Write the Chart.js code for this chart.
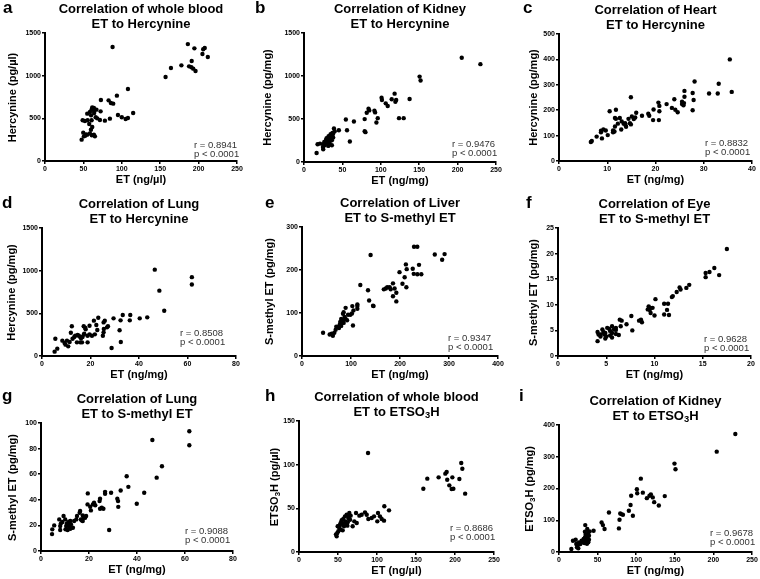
<!DOCTYPE html>
<html><head><meta charset="utf-8">
<script src="https://cdn.jsdelivr.net/npm/chart.js@4.4.1/dist/chart.umd.min.js"></script>
<style>
html,body{margin:0;padding:0;background:#fff;}
#wrap{position:relative;width:760px;height:579px;overflow:hidden;font-family:"Liberation Sans",Arial,sans-serif;}
canvas{position:absolute;left:0;top:0;}
.t{position:absolute;font-weight:bold;color:#000;white-space:nowrap;}
.title{font-size:13px;line-height:15px;text-align:center;}
.letter{font-size:17px;line-height:17px;}
.xt,.yt{font-size:11px;line-height:13px;text-align:center;}
.yt{transform:rotate(-90deg);}
.ann{font-weight:normal;font-size:9.5px;line-height:9px;color:#333;}
sub{font-size:0.72em;vertical-align:baseline;position:relative;top:0.3em;}
</style></head>
<body><div id="wrap"></div>
<script>
// ---------- data ----------
const aX = [88,186,194.5,206,208,205,212,191,187.6,190.6,193,196,177.6,164,157,108,93.6,72.8,82.8,85.8,88.8,72.4,95,100,105,108,114.8,84.5,78,68,71.5,66,61.5,63.7,60.7,64.1,58.5,67,55,64,60,49,52,55.5,60.7,57.6,61.5,59.8,49.8,53.3,58.5,55,61,47.7,50.7,52.4,63.7,65];
const aY = [1336,1370,1320,1310,1325,1254,1219,1172,1109,1098,1082,1055,1121,1090,984,844,766,715,711,680,672,582,539,512,492,504,563,496,473,500,480,512,629,621,602,586,574,602,555,562,535,477,469,477,477,434,398,367,332,312,324,309,301,250,289,297,309,289];

const bX = [205.4,229.7,150.5,151.8,137.5,118,120,114.2,101,101.5,106.4,109,119,123.7,129.8,84,85,81.7,91.7,92.6,96,94.3,79,79,80,65,54.5,56,59.7,45.4,39,40,37,34.6,36.8,32,35,38,29.4,32.9,28.5,36.3,26.4,30.3,25,33.3,20.8,17.7,24.7,25,36.3,16.4,31.6,30,34,36,28,33,38,27];
const bY = [1212,1138,993,947,732,795,721,729,748,721,682,651,701,510,510,619,600,573,596,577,510,460,499,358,347,471,495,370,238,370,390,358,339,323,312,300,284,284,277,261,253,253,234,226,206,206,214,206,175,148,195,105,187,240,270,300,220,230,330,195];

const cX = [35.4,35.8,33.1,32.9,28.1,31.1,27.7,27.9,26,26,25.5,25.9,25.5,25.8,27.7,24.6,23.9,23.4,24.1,22.3,14.9,20.6,20.8,20.8,19.6,20.7,19.5,18.5,18.7,17.2,16,15.1,15.5,15.8,14.4,14.7,14.9,13.9,13.8,12.6,13,13.4,13.7,12.2,11.6,11.8,11.8,10.5,11.6,11.2,11.2,11.5,12.9,10.1,9.7,9.2,8.7,8.9,7.8,6.6,6.8,8.7];
const cY = [400,272,304,266,313,266,268,240,276,253,233,228,224,219,200,192,243,209,202,224,251,230,217,196,203,161,161,186,178,178,190,175,165,171,166,149,144,135,141,169,156,147,149,147,169,166,202,196,136,120,113,116,124,102,120,124,113,89,96,75,79,119];

const dX = [46.5,61.8,61.8,48.4,50.4,40.3,43.4,33.3,36.4,36.2,29.5,32.4,32,32.5,28.7,23.2,21.4,25.9,22.4,22.8,25.4,26.8,27.2,25.5,25.4,25.1,21.8,19.6,17.8,18,17.2,17.4,18.8,16.5,15.8,14.4,13.7,15.2,15.8,16.1,12.3,11.9,12.6,13.3,11.4,10.8,10.3,8.4,9.3,9.7,5.5,6.3,5.2,14.7,18.8,19.6,20.6,17.2,16.7];
const dY = [1012,924,838,766,531,441,453,480,480,418,441,418,301,164,94,449,414,414,363,305,394,336,348,316,277,238,254,355,332,313,348,262,160,160,160,160,238,238,223,207,348,273,203,223,164,113,180,180,152,133,203,86,51,246,238,254,238,250,223];

const eX = [140,228.6,235.3,271,291,286,238.8,212,213.7,199,209.5,205,213,228,235.4,243.5,226,119,174,179,181,167,171,185.7,189,192.5,185.7,192.5,134.7,137,145,146,113,113,113,102.7,105,102,98.6,89,94,104,85,83.7,87,89,80,83.7,78,81.6,85,77,80,75.5,70,68.7,92,43,56.5,60.5,63,66];
const eY = [235,254,254,236,237,224,212,213,202,195,183,168,160,191,190,190,203,165,160,160,155,155,157,169,157,147,139,127,153,129,117,116,120,116,110,116,106,99,96,112,96,71,102,98,91,86,86,83,79,77,77,73,70,65,68,61,83,54,50,52,47,54];

const fX = [17.5,16.7,16.2,15.7,15.3,15.3,13.6,13.3,12.6,12.7,12.3,11.9,11.8,11,11.4,11.3,11,11.5,10.1,9.4,9.6,9.8,9.3,9.5,9.6,10,8.4,8.7,8.6,7.6,7.1,7.7,6.4,6.6,6.5,6,6,5.6,5.8,5.3,5.4,5.6,6,6.3,5.4,5.6,5,4.9,4.6,4.7,4.4,4.4,4.1,4.2,4.1,5.1,4.8,4.9];
const fY = [20.9,15.8,17.2,16.4,16.2,15.4,13.9,13.3,13.4,13,12.5,11.7,11.5,10.2,10.2,9,8.1,8,11.1,9.7,9.4,9.4,9.1,9,8.4,7.9,6.9,6.6,7.1,7.8,6.2,5,7.1,6.9,5.8,5.5,5.1,5.8,5.2,5.3,4.9,4.5,4.3,4.1,4,3.6,3.8,4.5,5.2,4.7,4.2,3.8,4.7,4.2,2.9,5.5,4.2,3.4];

const gX = [61.8,61.8,46.4,50.4,48.2,35.7,36.4,33.2,43,39.9,31.8,32.1,32.2,29.2,26.7,26.7,24.6,24.4,25.3,24.6,26,28.4,22.1,22.6,21.6,20.5,19.5,19.4,20.8,17.4,17.7,17,16.1,16.3,15,14.7,13.8,16.6,17.4,18.4,18.8,12.2,12.5,11.5,13.3,10.8,10.5,10.1,9.4,10.2,11.1,8.9,8.3,7.6,8,8,11.5,12.2,12.7,5.5,4.7,4.6];
const gY = [93.5,82.6,86.7,66.2,57.3,58.4,50.1,47.3,45.5,36.9,40.8,39,34.5,45.5,46.2,44.7,40.8,39,33.8,33,33,16.4,37.7,35.8,36.4,34.5,45,36.4,31.7,27.8,26,23.9,29.9,31.2,27.3,24.7,23.4,24.7,23.4,26,27.3,23.4,20.8,19.5,18.2,21.6,19.5,24.7,27.3,16.9,16.4,22.6,21.6,24.7,19.5,16.4,22.6,17.4,18.2,20,16.9,13.2];

const hX = [88.5,208,209.4,205.6,189.3,187.6,190,179,164.5,159.4,196.6,192.7,195.7,197.9,213,109.4,115.4,101.3,96.2,103.8,106,109,100.4,93.2,86.8,84.6,88.9,80.3,77.4,73.1,70.9,74,68.8,64.1,65.4,62.4,59,61.1,64.5,56.8,54.7,53.4,60.3,57.7,62,51.7,53.4,50.4,56,49.1,48.3,47.4,52.6,56,49.6,51.7,59.4,63.2,66.2];
const hY = [113.4,101.9,95.4,83.6,91.6,89.7,82.8,85.5,84,72.5,85.5,76.3,72.1,72.5,66.8,52.3,47.7,44.7,40.8,40.8,37.8,35.9,35.1,38.9,42.7,45.4,37.8,42.7,41.6,44.7,35.1,33.2,29.4,40.1,37,34,40.8,42.7,44.7,37.8,36.3,33.2,32.4,29.4,30.2,27.5,25.6,23.7,24.8,21.8,17.9,20.2,31.3,32.4,29.4,29.4,35.1,38.9,41.6];

const iX = [228.4,204.3,149.6,150.9,137,129.3,117.2,119,121.5,113.8,123.3,106,108.6,100.9,101.3,93.5,92.7,90.5,95.7,79.3,80.6,82.8,78.4,77.6,64.7,55.2,56.9,59,44.8,34,39.7,37.9,33.6,36.6,34.5,33.6,36.6,38.8,31.9,29.3,34.5,38.8,25.9,22.4,27.6,24.1,21.6,25,23.3,18.1,16,30.2,32.8,36.2,37.9];
const iY = [371.7,316,278.5,260.7,176,146.6,177,181,172,169.6,157,231,187,198,185,177,148,130,114,121.5,119.4,117.3,101.6,74.3,124.6,93.2,84.8,72.3,67,84.8,65,59.7,63.9,72.3,54.5,46,46,51.3,40.8,35.6,35.6,38.7,30.4,25.1,25.1,19.9,38.7,11.5,14.7,35.6,9.4,30.4,28.3,26.2,30.4];

// tick labels
const ticks250 = [0,50,100,150,200,250];
const ticks1500 = [0,500,1000,1500];
const ticks40 = [0,10,20,30,40];
const ticks500 = [0,100,200,300,400,500];
const ticks80 = [0,20,40,60,80];
const ticks400 = [0,100,200,300,400];
const ticks300 = [0,100,200,300];
const ticks20 = [0,5,10,15,20];
const ticks25 = [0,5,10,15,20,25];
const ticks100 = [0,20,40,60,80,100];
const ticks150 = [0,50,100,150];

// texts
const letters = ['a','b','c','d','e','f','g','h','i'];
const titles1 = ['Correlation of whole blood','Correlation of Kidney','Correlation of Heart','Correlation of Lung','Correlation of Liver','Correlation of Eye','Correlation of Lung','Correlation of whole blood','Correlation of Kidney'];
const titles2 = ['ET to Hercynine','ET to Hercynine','ET to Hercynine','ET to Hercynine','ET to S-methyl ET','ET to S-methyl ET','ET to S-methyl ET','ET to ETSO<sub>3</sub>H','ET to ETSO<sub>3</sub>H'];
const xTitles = ['ET (ng/µl)','ET (ng/mg)','ET (ng/mg)','ET (ng/mg)','ET (ng/mg)','ET (ng/mg)','ET (ng/mg)','ET (ng/µl)','ET (ng/mg)'];
const yTitles = ['Hercynine (pg/µl)','Hercynine (pg/mg)','Hercynine (pg/mg)','Hercynine (pg/mg)','S-methyl ET (pg/mg)','S-methyl ET (pg/mg)','S-methyl ET (pg/mg)','ETSO<sub>3</sub>H (pg/µl)','ETSO<sub>3</sub>H (pg/mg)'];
const rValues = ['0.8941','0.9476','0.8832','0.8508','0.9347','0.9628','0.9088','0.8686','0.9678'];
const pText = 'p < 0.0001';

// ---------- layout ----------
const panels = [
  {xs:aX, ys:aY, xt:ticks250, yt:ticks1500, box:[45,33,237,161], ytx:12, let:[3,13], ann:[43,13]},
  {xs:bX, ys:bY, xt:ticks250, yt:ticks1500, box:[304,33,496,162], ytx:267, let:[255,13], ann:[44,15]},
  {xs:cX, ys:cY, xt:ticks40, yt:ticks500, box:[559,34,752,161], ytx:533, let:[523,13], ann:[47,15]},
  {xs:dX, ys:dY, xt:ticks80, yt:ticks1500, box:[42,228,236,356], ytx:11, let:[2,208], ann:[56,20]},
  {xs:eX, ys:eY, xt:ticks400, yt:ticks300, box:[302,227,498,356], ytx:269, let:[265,208], ann:[50,15]},
  {xs:fX, ys:fY, xt:ticks20, yt:ticks25, box:[558,228,751,356], ytx:533, let:[526,208], ann:[47,14]},
  {xs:gX, ys:gY, xt:ticks80, yt:ticks100, box:[41,423,233,551], ytx:12, let:[2,401], ann:[48,17]},
  {xs:hX, ys:hY, xt:ticks250, yt:ticks150, box:[299,421,494,552], ytx:275, let:[265,401], ann:[44,21]},
  {xs:iX, ys:iY, xt:ticks250, yt:ticks400, box:[559,425,752,552], ytx:530, let:[519,401], ann:[42,16]}
];

const W = 760, H = 579;
const wrap = document.getElementById('wrap');
const FONT = '"Liberation Sans", Arial, sans-serif';

function addDiv(cls, html, left, top, width) {
  const d = document.createElement('div');
  d.className = 't ' + cls;
  d.innerHTML = html;
  d.style.left = left + 'px';
  d.style.top = top + 'px';
  if (width != null) d.style.width = width + 'px';
  wrap.appendChild(d);
  return d;
}

function axisOpts(tickArr, isX, size) {
  return {
    type: 'linear',
    min: tickArr[0],
    max: tickArr[tickArr.length - 1],
    afterBuildTicks: s => { s.ticks = tickArr.map(v => ({value: v})); },
    afterFit: s => { if (isX) s.height = size; else s.width = size; },
    grid: {drawOnChartArea: false, drawTicks: true, tickLength: 3, color: '#000', lineWidth: 1.5},
    border: {display: true, color: '#000', width: 2},
    ticks: {color: '#000', font: {family: FONT, size: 7, weight: 'bold'}, padding: 1,
            maxRotation: 0, autoSkip: false, callback: v => String(v)}
  };
}

panels.forEach((p, k) => {
  const [l, t, r, b] = p.box;
  const cv = document.createElement('canvas');
  cv.width = W; cv.height = H;
  cv.style.width = W + 'px'; cv.style.height = H + 'px';
  wrap.appendChild(cv);
  new Chart(cv, {
    type: 'scatter',
    data: {datasets: [{
      data: p.xs.map((x, i) => ({x: x, y: p.ys[i]})),
      backgroundColor: '#000', borderColor: '#000', borderWidth: 0,
      pointRadius: 2.2, pointHoverRadius: 2.2
    }]},
    options: {
      responsive: false, animation: false, devicePixelRatio: 1, events: [],
      layout: {padding: {left: 0, top: t, right: W - r, bottom: 0}},
      plugins: {legend: {display: false}, tooltip: {enabled: false}, title: {display: false}},
      scales: {
        x: axisOpts(p.xt, true, H - b),
        y: axisOpts(p.yt, false, l)
      }
    }
  });

  // texts
  addDiv('letter', letters[k], p.let[0], p.let[1] - 14.4);
  addDiv('title', titles1[k] + '<br>' + titles2[k], (l + r) / 2 - 110, t - 32.5, 220);
  addDiv('xt', xTitles[k], (l + r) / 2 - 80, b + 12, 160);
  addDiv('yt', yTitles[k], p.ytx - 80, (t + b) / 2 - 6.5, 160);
  const ann = addDiv('ann', '', r - p.ann[0], b - p.ann[1] - 7.8);
  const l1 = document.createElement('div'); l1.textContent = 'r = ' + rValues[k];
  const l2 = document.createElement('div'); l2.textContent = pText;
  ann.appendChild(l1); ann.appendChild(l2);
});
</script>
</body></html>
